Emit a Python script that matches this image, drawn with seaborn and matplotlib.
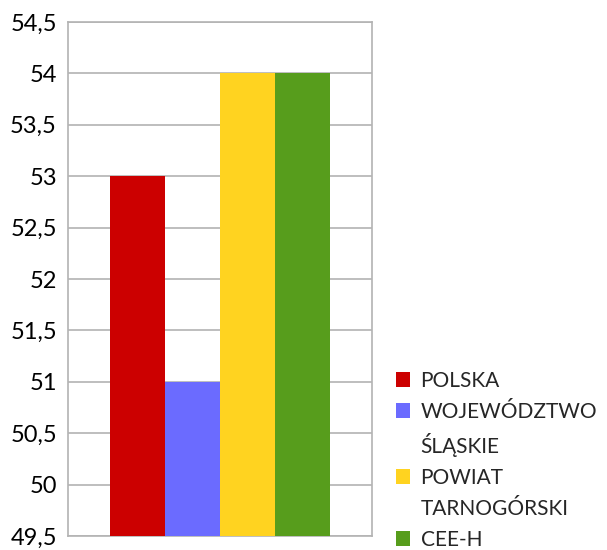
import matplotlib
matplotlib.use('Agg')
import matplotlib.pyplot as plt
import seaborn as sns
import pandas as pd
from matplotlib.patches import Patch
from matplotlib.ticker import FuncFormatter, MultipleLocator

kategorie = ['POLSKA', 'WOJEWÓDZTWO\nŚLĄSKIE', 'POWIAT\nTARNOGÓRSKI', 'CEE-H']
wartosci = [53, 51, 54, 54]
kolory = ['#cc0000', '#6b6bff', '#ffd320', '#579d1c']

df = pd.DataFrame({'grupa': [''] * 4, 'kategoria': kategorie, 'wartosc': wartosci})

sns.set_style('white')
plt.rcParams['font.family'] = ['Lato', 'DejaVu Sans']

fig = plt.figure(figsize=(6.07, 5.5), dpi=100)
ax = fig.add_axes([68 / 607, 14 / 550, 304 / 607, 514 / 550])

sns.barplot(data=df, x='grupa', y='wartosc', hue='kategoria', palette=kolory,
            width=0.724, saturation=1, linewidth=0, ax=ax, zorder=3)

ax.set_ylim(49.5, 54.5)
ax.set_xlim(-0.5, 0.5)
ax.yaxis.set_major_locator(MultipleLocator(0.5))
ax.yaxis.set_major_formatter(FuncFormatter(lambda v, p: f'{v:g}'.replace('.', ',')))
ax.grid(axis='y', color='#b3b3b3', linewidth=1.2, zorder=0)
ax.set_axisbelow(True)
ax.set_xlabel('')
ax.set_ylabel('')
ax.set_xticks([])
ax.tick_params(axis='y', labelsize=17, length=0, pad=8, colors='black')
for s in ax.spines.values():
    s.set_color('#b3b3b3')
    s.set_linewidth(1.2)

# legenda: kwadrat przy pierwszej linii etykiety
uchwyty, etykiety = ax.get_legend_handles_labels()
ax.get_legend().remove()
h2, l2 = [], []
for h, l in zip(uchwyty, etykiety):
    linie = l.split('\n')
    h2.append(Patch(facecolor=h.get_facecolor(), edgecolor='none'))
    l2.append(linie[0])
    for reszta in linie[1:]:
        h2.append(Patch(facecolor='none', edgecolor='none'))
        l2.append(reszta)

ax.legend(h2, l2, loc='lower left', bbox_to_anchor=(1.05, -0.043), frameon=False,
          fontsize=15, handlelength=0.7, handleheight=0.7, handletextpad=0.5,
          labelspacing=0.53, borderaxespad=0)

fig.savefig('out.png', dpi=100)
